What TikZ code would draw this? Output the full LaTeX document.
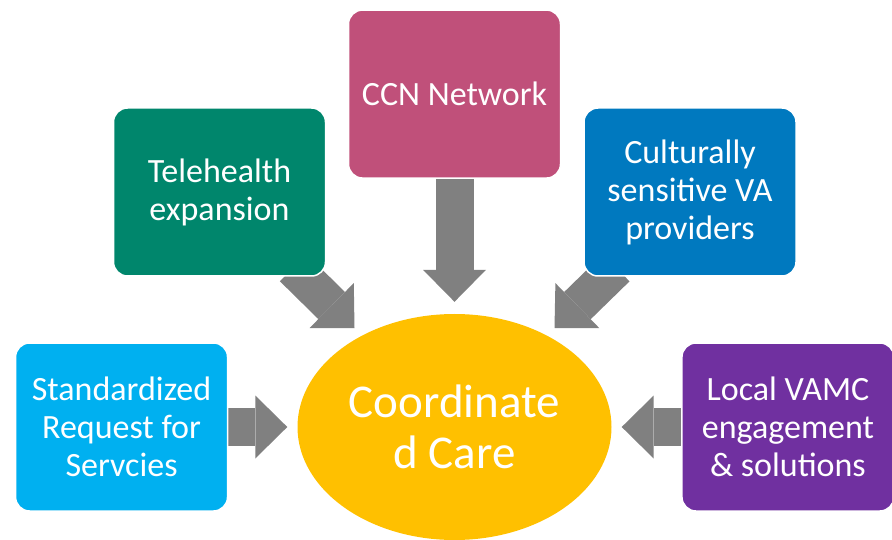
\documentclass[tikz,border=0pt]{standalone}
\usepackage{fontspec}
\setmainfont{Carlito}
\usetikzlibrary{positioning}
\usetikzlibrary{shapes.geometric}
\usetikzlibrary{arrows.meta}
\usetikzlibrary{backgrounds}
\definecolor{telegreen}{RGB}{0,134,108}
\definecolor{ccnpink}{RGB}{192,80,122}
\definecolor{provblue}{RGB}{0,121,191}
\definecolor{reqblue}{RGB}{0,176,240}
\definecolor{vamcpurple}{RGB}{112,48,160}
\definecolor{coregold}{RGB}{255,192,0}
\definecolor{arrowgray}{RGB}{128,128,128}
\tikzset{>={Triangle[width=63pt,length=32pt,line width=0pt]}}
\tikzset{card/.style={draw=white, line width=1.5pt, rounded corners=14pt, minimum width=212pt, minimum height=168pt, inner sep=0pt, text=white, align=center, font=\fontsize{34}{38}\selectfont}}
\tikzset{hub/.style={ellipse, fill=coregold, minimum width=314pt, minimum height=226pt, inner sep=0pt, text=white, align=center, font=\fontsize{47}{51}\selectfont}}
\tikzset{feed/.style={->, arrowgray, line width=38pt}}

\begin{document}
\begin{tikzpicture}[x=1pt,y=1pt]
        \useasboundingbox (0,0) rectangle (892,539);
        \node[hub] (core) at (454.5,112) {Coordinate\\d Care};

        \node[card, fill=ccnpink] (ccn) [above=135pt of core] {CCN Network};
        \node[card, fill=telegreen] (tele) at (219.5,347) {Telehealth\\expansion};
        \node[card, fill=provblue] (prov) at (690,347) {Culturally\\sensitive VA\\providers};
        \node[card, fill=reqblue] (req) [left=69pt of core] {Standardized\\Request for\\Servcies};
        \node[card, fill=vamcpurple] (vamc) [right=69.5pt of core] {Local VAMC\\engagement\\\& solutions};

        \begin{scope}[on background layer]
        \draw[feed] (ccn.south) -- ([yshift=12pt]core.north);
        \draw[feed] ([shift={(-33,9)}]tele.south east) -- ([shift={(-100,99)}]core.center);
        \draw[feed] ([shift={(33,9)}]prov.south west) -- ([shift={(100,99)}]core.center);
        \draw[feed] (req.east) -- ([xshift=-10pt]core.west);
        \draw[feed] (vamc.west) -- ([xshift=10pt]core.east);
        \end{scope}
\end{tikzpicture}
\end{document}
